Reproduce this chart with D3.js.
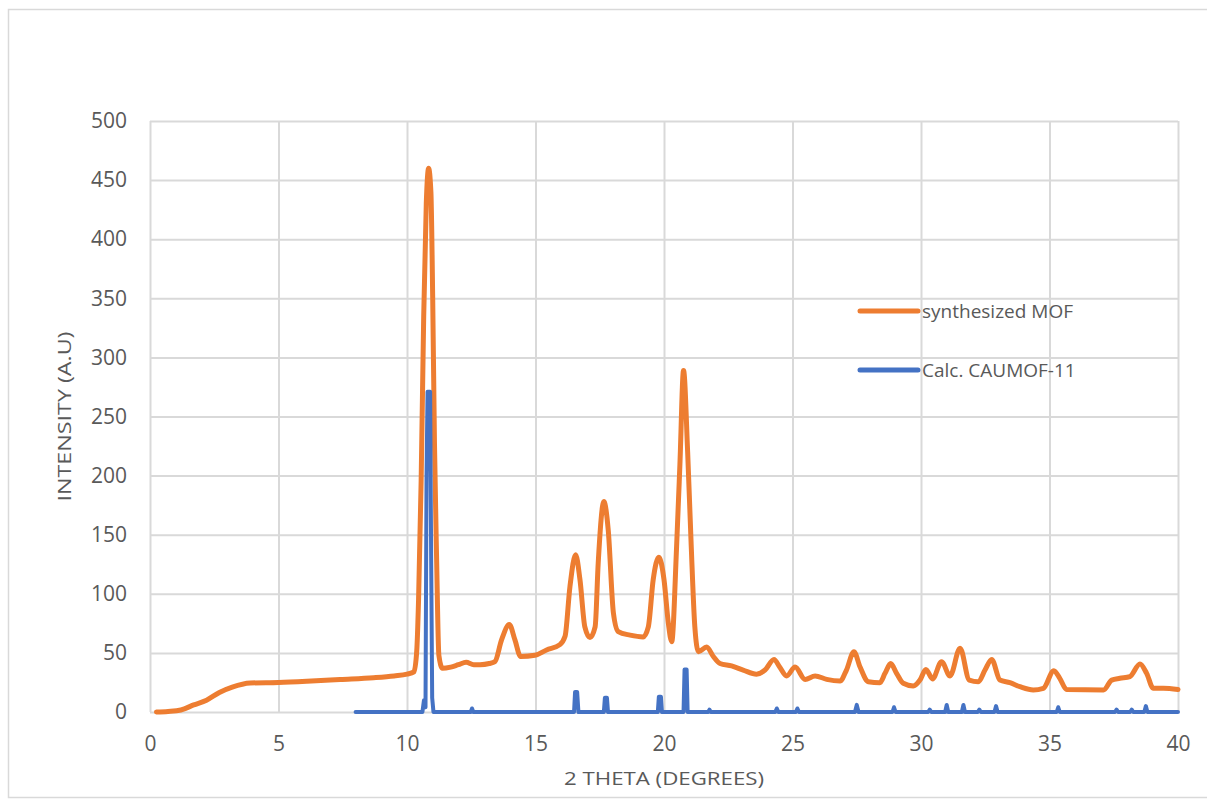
<!DOCTYPE html>
<html>
<head>
<meta charset="utf-8">
<script src="https://cdn.jsdelivr.net/npm/d3@7/dist/d3.min.js"></script>
<style>
  html, body { margin: 0; padding: 0; background: #ffffff; }
  svg { display: block; }
  text { font-family: "Open Sans", "Noto Sans", sans-serif; fill: #595959; }
</style>
</head>
<body>
<svg id="chart" width="1207" height="800"></svg>
<script>
// Measured diffraction pattern of the synthesized MOF: [2θ, intensity]
const synthesizedMOF = [
  [0.25,0],[0.7,0.5],[1.2,1.7],[1.7,6],[2.2,10],[2.7,16.5],[3.2,21],[3.9,24.5],
  [5,25],[6.1,26],[7.4,27.5],[8.7,29],[9.5,30.5],[10.0,32],[10.27,34],[10.38,52],
  [10.45,95],[10.55,195],[10.65,335],[10.75,430],[10.84,460],[10.93,440],[11.0,350],
  [11.07,226],[11.15,132],[11.24,48],[11.38,37],[11.7,38],[12.0,40],[12.3,42],
  [12.6,40],[12.84,40],[13.2,41],[13.42,42.6],[13.68,61],[13.98,74],[14.2,61],
  [14.42,47],[14.98,48],[15.43,52.5],[15.95,57],[16.15,64],[16.34,106],[16.56,133],
  [16.73,112],[16.92,72],[17.12,63],[17.32,72],[17.44,126],[17.66,178],[17.83,154],
  [18.03,84],[18.22,68],[18.68,65],[19.19,63.5],[19.39,72],[19.58,112],[19.8,131],
  [20.0,112],[20.17,75],[20.3,59.5],[20.49,140],[20.62,210],[20.76,289],[20.92,220],
  [21.06,140],[21.2,72],[21.34,51],[21.66,55],[21.92,47],[22.18,41],[22.63,39],
  [23.08,35.5],[23.6,32],[23.93,35.5],[24.28,44.5],[24.5,38],[24.77,30.5],[25.1,38],
  [25.49,27.6],[25.88,30.5],[26.33,27.6],[26.85,26.2],[27.1,35.5],[27.39,51],
  [27.63,38],[27.95,25.6],[28.4,24.8],[28.6,32.7],[28.82,41],[29.05,32.7],
  [29.31,24.3],[29.7,22],[29.96,27],[30.19,36],[30.45,28],[30.8,42.6],[31.13,30.5],
  [31.52,54],[31.88,27],[32.23,25.6],[32.49,35.5],[32.75,44.5],[33.07,27],
  [33.46,24.8],[33.85,21.4],[34.37,18.6],[34.76,20],[35.17,35],[35.4,28.5],
  [35.67,19],[37.1,18.6],[37.42,27],[37.74,28.5],[38.13,30],[38.52,40.6],
  [38.78,32.7],[39.04,20],[39.43,20],[40,19]
];

// Calculated pattern of CAUMOF-11: [2θ, intensity]
const calcCAUMOF11 = [
  [8,0],[10.6,0],[10.66,10],[10.72,4],[10.76,200],[10.8,271],[10.9,271],[10.94,130],
  [10.98,12],[11.03,0],
  [12.48,0],[12.53,3],[12.58,0],
  [16.5,0],[16.54,17],[16.62,17],[16.67,0],
  [17.66,0],[17.7,12],[17.78,12],[17.82,0],
  [19.76,0],[19.8,13],[19.88,13],[19.92,0],
  [20.76,0],[20.8,36],[20.88,36],[20.92,0],
  [21.72,0],[21.77,2],[21.82,0],
  [24.33,0],[24.39,3],[24.45,0],
  [25.13,0],[25.19,3],[25.25,0],
  [27.43,0],[27.5,6],[27.57,0],
  [28.89,0],[28.95,4],[29.01,0],
  [30.28,0],[30.34,2],[30.4,0],
  [30.94,0],[31.0,6],[31.06,0],
  [31.59,0],[31.65,6],[31.71,0],
  [32.21,0],[32.27,2],[32.33,0],
  [32.86,0],[32.92,5],[32.98,0],
  [35.28,0],[35.34,4],[35.4,0],
  [37.55,0],[37.61,2],[37.67,0],
  [38.14,0],[38.2,2],[38.26,0],
  [38.69,0],[38.75,5],[38.81,0],
  [40,0]
];

const xTicks = [0, 5, 10, 15, 20, 25, 30, 35, 40];
const yTicks = [0, 50, 100, 150, 200, 250, 300, 350, 400, 450, 500];
const seriesNames = ["synthesized MOF", "Calc. CAUMOF-11"];
const seriesColors = ["#ED7D31", "#4472C4"];

const svg = d3.select("#chart");
const W = 1207, H = 800;
const plot = { left: 150, right: 1178, top: 121, bottom: 712 };

// outer chart frame
svg.append("rect")
  .attr("x", 8.5).attr("y", 9.5)
  .attr("width", W + 10).attr("height", 788)
  .attr("fill", "#ffffff")
  .attr("stroke", "#d9d9d9").attr("stroke-width", 1.5);

const x = d3.scaleLinear().domain([0, 40]).range([plot.left, plot.right]);
const y = d3.scaleLinear().domain([0, 500]).range([plot.bottom, plot.top]);

// gridlines
svg.append("g")
  .attr("transform", `translate(0,${plot.bottom})`)
  .call(d3.axisBottom(x).tickValues(xTicks).tickSize(-(plot.bottom - plot.top)).tickFormat(""))
  .call(g => g.select(".domain").remove())
  .call(g => g.selectAll("line").attr("stroke", "#d9d9d9").attr("stroke-width", 2));

svg.append("g")
  .attr("transform", `translate(${plot.left},0)`)
  .call(d3.axisLeft(y).tickValues(yTicks).tickSize(-(plot.right - plot.left)).tickFormat(""))
  .call(g => g.select(".domain").remove())
  .call(g => g.selectAll("line").attr("stroke", "#d9d9d9").attr("stroke-width", 2));

// tick labels
const xAxis = svg.append("g")
  .attr("transform", `translate(0,${plot.bottom})`)
  .call(d3.axisBottom(x).tickValues(xTicks).tickSize(0).tickPadding(24).tickFormat(d3.format("d")));
xAxis.select(".domain").remove();
xAxis.selectAll("text").style("font-size", "21px").attr("fill", "#595959")
  .attr("font-family", "Open Sans");

const yAxis = svg.append("g")
  .attr("transform", `translate(${plot.left},0)`)
  .call(d3.axisLeft(y).tickValues(yTicks).tickSize(0).tickPadding(23).tickFormat(d3.format("d")));
yAxis.select(".domain").remove();
yAxis.selectAll("text").style("font-size", "21px").attr("fill", "#595959")
  .attr("font-family", "Open Sans");

// axis titles
svg.append("text")
  .attr("x", (plot.left + plot.right) / 2).attr("y", 785)
  .attr("text-anchor", "middle")
  .style("font-size", "19px")
  .attr("textLength", 200).attr("lengthAdjust", "spacingAndGlyphs")
  .text("2 THETA (DEGREES)");

svg.append("text")
  .attr("transform", `translate(71,${(plot.top + plot.bottom) / 2}) rotate(-90)`)
  .attr("text-anchor", "middle")
  .style("font-size", "19px")
  .attr("textLength", 170).attr("lengthAdjust", "spacingAndGlyphs")
  .text("INTENSITY (A.U)");

// pattern lines
const smooth = d3.line().x(d => x(d[0])).y(d => y(d[1])).curve(d3.curveMonotoneX);
const sticks = d3.line().x(d => x(d[0])).y(d => y(d[1]));

svg.append("path")
  .datum(synthesizedMOF)
  .attr("d", smooth)
  .attr("fill", "none")
  .attr("stroke", seriesColors[0])
  .attr("stroke-width", 5)
  .attr("stroke-linejoin", "round")
  .attr("stroke-linecap", "round");

svg.append("path")
  .datum(calcCAUMOF11)
  .attr("d", sticks)
  .attr("fill", "none")
  .attr("stroke", seriesColors[1])
  .attr("stroke-width", 4)
  .attr("stroke-linejoin", "round")
  .attr("stroke-linecap", "round");

// legend
const legend = svg.append("g").attr("transform", "translate(860,311)");
seriesNames.forEach((name, i) => {
  const row = legend.append("g").attr("transform", `translate(0,${i * 59})`);
  row.append("line")
    .attr("x1", 0).attr("x2", 58).attr("y1", 0).attr("y2", 0)
    .attr("stroke", seriesColors[i]).attr("stroke-width", 5)
    .attr("stroke-linecap", "round");
  row.append("text")
    .attr("x", 62).attr("y", 7)
    .style("font-size", "19px")
    .text(name);
});
</script>
</body>
</html>
